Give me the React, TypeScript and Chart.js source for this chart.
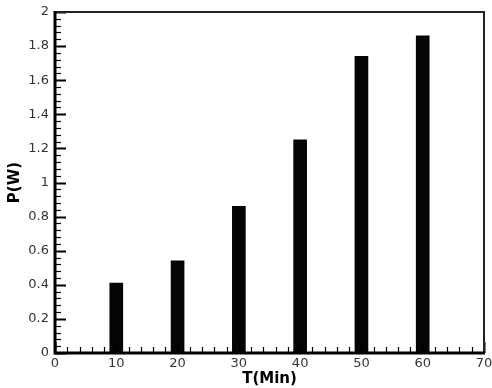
import React, { useEffect, useRef } from "react";
import { Chart, registerables } from "chart.js";

Chart.register(...registerables);

const times = [10, 20, 30, 40, 50, 60];
const power = [0.41, 0.54, 0.86, 1.25, 1.74, 1.86];
const xMin = 0;
const xMax = 70;
const xStep = 10;
const yMin = 0;
const yMax = 2;
const yStep = 0.2;
const minorPerMajor = 5;

const framePlugin = {
  id: "frameTicks",
  afterDatasetsDraw(chart: any) {
    const { ctx, chartArea, scales } = chart;
    const { left, right, top, bottom } = chartArea;
    const x = scales.x;
    const y = scales.y;
    ctx.save();
    ctx.strokeStyle = "#000";
    const yMinor = yStep / minorPerMajor;
    const nY = Math.round((yMax - yMin) / yMinor);
    for (let i = 0; i <= nY; i++) {
      const v = yMin + i * yMinor;
      const py = Math.round(y.getPixelForValue(v)) + 0.5;
      const major = i % minorPerMajor === 0;
      ctx.lineWidth = major ? 2 : 1.2;
      ctx.beginPath();
      ctx.moveTo(left, py);
      ctx.lineTo(left + (major ? 11 : 6), py);
      ctx.stroke();
    }
    const xMinor = xStep / minorPerMajor;
    const nX = Math.round((xMax - xMin) / xMinor);
    for (let i = 0; i <= nX; i++) {
      const v = xMin + i * xMinor;
      const px = Math.round(x.getPixelForValue(v)) + 0.5;
      const major = i % minorPerMajor === 0;
      ctx.lineWidth = major ? 2 : 1.2;
      ctx.beginPath();
      ctx.moveTo(px, bottom);
      ctx.lineTo(px, bottom - (major ? 11 : 6));
      ctx.stroke();
    }
    ctx.lineWidth = 2;
    ctx.strokeStyle = "#222";
    ctx.beginPath();
    ctx.moveTo(left, top);
    ctx.lineTo(right, top);
    ctx.lineTo(right, bottom);
    ctx.stroke();
    ctx.lineWidth = 3;
    ctx.strokeStyle = "#000";
    ctx.beginPath();
    ctx.moveTo(left, top - 1);
    ctx.lineTo(left, bottom);
    ctx.lineTo(right + 1, bottom);
    ctx.stroke();
    ctx.restore();
  },
};

export default function App() {
  const ref = useRef<HTMLCanvasElement | null>(null);
  useEffect(() => {
    if (!ref.current) return;
    const chart = new Chart(ref.current, {
      type: "bar",
      data: {
        datasets: [
          {
            data: times.map((t, i) => ({ x: t, y: power[i] })),
            backgroundColor: "#050505",
            borderWidth: 0,
            barThickness: 13,
          },
        ],
      },
      options: {
        animation: false,
        responsive: true,
        maintainAspectRatio: false,
        layout: { padding: { top: 12, right: 8, left: 0, bottom: 0 } },
        plugins: { legend: { display: false }, tooltip: { enabled: false } },
        scales: {
          x: {
            type: "linear",
            min: xMin,
            max: xMax,
            offset: false,
            grid: { display: false, drawTicks: false, offset: false },
            border: { display: false },
            ticks: {
              stepSize: xStep,
              padding: 3,
              color: "#333",
              font: { family: "DejaVu Sans", size: 13 },
              maxRotation: 0,
            },
            title: {
              display: true,
              text: "T(Min)",
              color: "#000",
              font: { family: "DejaVu Sans", size: 15, weight: "bold" },
              padding: { top: 0, bottom: 0 },
            },
            afterFit: (s: any) => {
              s.height = 35;
              s.paddingLeft = 0;
              s.paddingRight = 0;
            },
          },
          y: {
            type: "linear",
            min: yMin,
            max: yMax,
            grid: { display: false, drawTicks: false },
            border: { display: false },
            ticks: {
              stepSize: yStep,
              padding: 6,
              color: "#333",
              font: { family: "DejaVu Sans", size: 13 },
              callback: (v: any) => String(Number(Number(v).toFixed(1))),
            },
            title: {
              display: true,
              text: "P(W)",
              color: "#000",
              font: { family: "DejaVu Sans", size: 15, weight: "bold" },
              padding: { top: 6, bottom: 0 },
            },
            afterFit: (s: any) => {
              s.width = 55;
              s.paddingTop = 0;
              s.paddingBottom = 0;
            },
          },
        },
      },
      plugins: [framePlugin],
    });
    return () => chart.destroy();
  }, []);
  return (
    <div style={{ position: "fixed", left: 0, top: 0, width: 492, height: 388, background: "#fff" }}>
      <canvas ref={ref} />
    </div>
  );
}
